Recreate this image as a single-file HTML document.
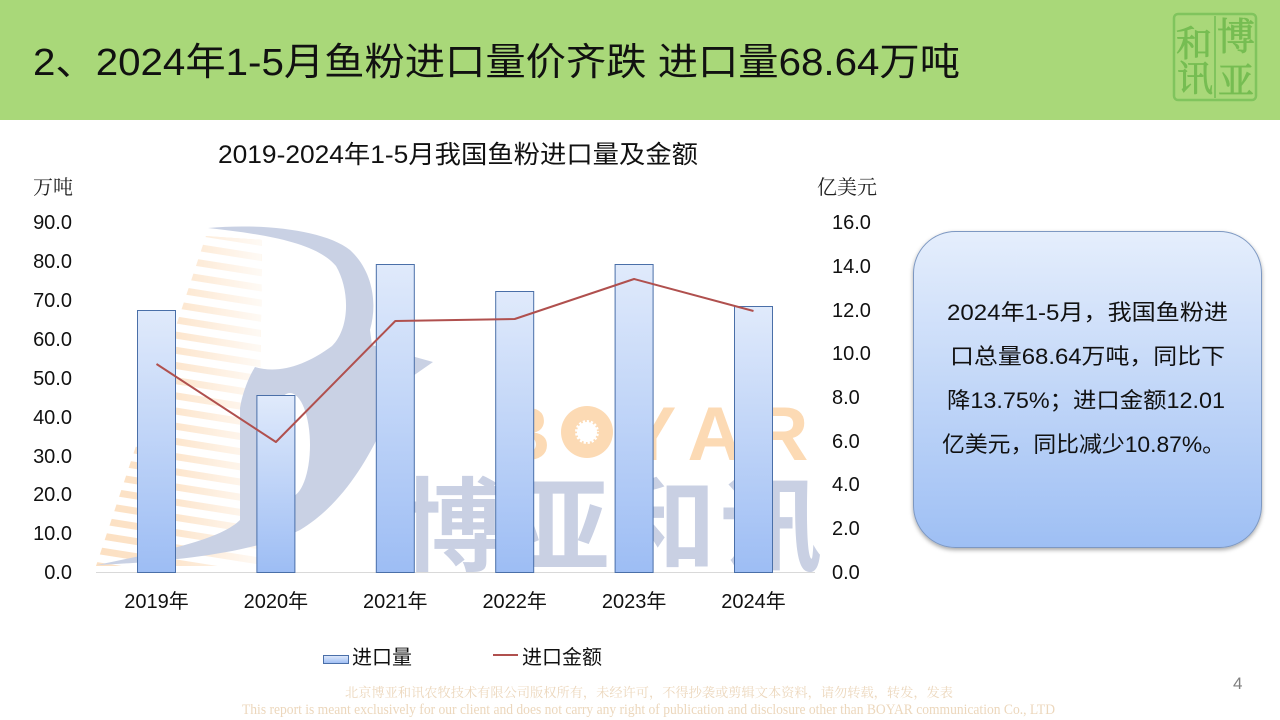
<!DOCTYPE html>
<html>
<head>
<meta charset="utf-8">
<style>
  html,body{margin:0;padding:0;background:#fff;}
  body{width:1280px;height:720px;overflow:hidden;position:relative;}
  svg{position:absolute;left:0;top:0;}
  .s{font-family:"Liberation Sans","Noto Sans CJK SC",sans-serif;}
  .sf{font-family:"Liberation Serif","Noto Serif CJK SC",serif;}
</style>
</head>
<body>
<svg width="1280" height="720" viewBox="0 0 1280 720" xmlns="http://www.w3.org/2000/svg">
  <defs>
    <linearGradient id="barg" x1="0" y1="0" x2="0" y2="1">
      <stop offset="0" stop-color="#e0eafb"/>
      <stop offset="1" stop-color="#9dbdf4"/>
    </linearGradient>
    <linearGradient id="boxg" x1="0" y1="0" x2="0" y2="1">
      <stop offset="0" stop-color="#e5eefc"/>
      <stop offset="1" stop-color="#9ebff4"/>
    </linearGradient>
    <linearGradient id="fade" x1="0" y1="0" x2="1" y2="0">
      <stop offset="0" stop-color="#fff" stop-opacity="0"/>
      <stop offset="0.5" stop-color="#fff" stop-opacity="0.25"/>
      <stop offset="1" stop-color="#fff" stop-opacity="0.9"/>
    </linearGradient>
    <pattern id="stripes" width="60" height="15" patternUnits="userSpaceOnUse" patternTransform="rotate(9)">
      <rect x="0" y="0" width="60" height="7" fill="#fcdfc0"/>
    </pattern>
    <clipPath id="stripeclip">
      <polygon points="206,236 262,240 258,566 96,566"/>
    </clipPath>
    <filter id="sh" x="-10%" y="-10%" width="120%" height="125%">
      <feDropShadow dx="0" dy="2" stdDeviation="2" flood-color="#000" flood-opacity="0.35"/>
    </filter>
  </defs>

  <!-- header -->
  <rect x="0" y="0" width="1280" height="120" fill="#a9d879"/>
  <text class="s" x="33" y="75" font-size="38" fill="#111" textLength="927" lengthAdjust="spacingAndGlyphs">2、2024年1-5月鱼粉进口量价齐跌 进口量68.64万吨</text>

  <!-- seal logo -->
  <g>
    <rect x="1174" y="14" width="82" height="86" rx="4" fill="none" stroke="#80c45d" stroke-width="2.5"/>
    <line x1="1215" y1="16" x2="1215" y2="98" stroke="#80c45d" stroke-width="2"/>
    <text class="sf" x="1194" y="56" font-size="36" fill="#76bd52" text-anchor="middle" stroke="#76bd52" stroke-width="0.8">和</text>
    <text class="sf" x="1236" y="50" font-size="38" fill="#76bd52" text-anchor="middle" stroke="#76bd52" stroke-width="0.8">博</text>
    <text class="sf" x="1195" y="91" font-size="36" fill="#76bd52" text-anchor="middle" stroke="#76bd52" stroke-width="0.8">讯</text>
    <text class="sf" x="1236" y="93" font-size="36" fill="#76bd52" text-anchor="middle" stroke="#76bd52" stroke-width="0.8">亚</text>
  </g>

  <!-- watermark stripes -->
  <g clip-path="url(#stripeclip)">
    <rect x="90" y="225" width="180" height="350" fill="url(#stripes)"/>
    <rect x="90" y="225" width="180" height="350" fill="url(#fade)"/>
  </g>
  <!-- watermark B shape -->
  <path d="M 208 228 C 262 223, 325 230, 350 250 C 372 270, 378 302, 370 330 L 372 345 L 433 362 L 400 385 C 380 440, 350 500, 300 530 C 250 555, 160 562, 97 565 C 160 552, 220 540, 240 520 L 240 408 C 243 390, 250 375, 255 367 C 278 374, 305 366, 332 346 C 350 328, 350 290, 336 266 C 316 242, 262 234, 208 228 Z" fill="#c9d1e4"/>
  <ellipse cx="290" cy="445" rx="20" ry="52" fill="#fff"/>

  <!-- BOYAR -->
  <g class="s" font-size="76" fill="#fcdab4" text-anchor="middle" font-weight="bold">
    <text x="523" y="460">B</text>
    <text x="651" y="460">Y</text>
    <text x="715" y="460">A</text>
    <text x="781" y="460">R</text>
  </g>
  <circle cx="587" cy="432" r="26" fill="#fcdab4"/>
  <circle cx="587" cy="432" r="12" fill="#fff"/>
  <circle cx="587" cy="432" r="12" fill="none" stroke="#fcdab4" stroke-width="4" stroke-dasharray="2 2.5"/>

  <!-- 博亚和讯 -->
  <g class="s" font-size="102" fill="#c9d0e3" text-anchor="middle" font-weight="bold">
    <text x="453" y="563">博</text>
    <text x="559" y="563">亚</text>
    <text x="665" y="563">和</text>
    <text x="771" y="563">讯</text>
  </g>

  <!-- chart title -->
  <text class="s" x="218" y="163" font-size="25" fill="#111" textLength="480" lengthAdjust="spacingAndGlyphs">2019-2024年1-5月我国鱼粉进口量及金额</text>

  <!-- axis units -->
  <text class="sf" x="33" y="194" font-size="20" fill="#222">万吨</text>
  <text class="sf" x="817" y="194" font-size="20" fill="#222">亿美元</text>

  <!-- left axis labels -->
  <g class="s" font-size="20" fill="#111" text-anchor="end">
    <text x="72" y="229">90.0</text>
    <text x="72" y="268">80.0</text>
    <text x="72" y="307">70.0</text>
    <text x="72" y="346">60.0</text>
    <text x="72" y="385">50.0</text>
    <text x="72" y="424">40.0</text>
    <text x="72" y="463">30.0</text>
    <text x="72" y="501">20.0</text>
    <text x="72" y="540">10.0</text>
    <text x="72" y="579">0.0</text>
  </g>
  <!-- right axis labels -->
  <g class="s" font-size="20" fill="#111">
    <text x="832" y="229">16.0</text>
    <text x="832" y="273">14.0</text>
    <text x="832" y="317">12.0</text>
    <text x="832" y="360">10.0</text>
    <text x="832" y="404">8.0</text>
    <text x="832" y="448">6.0</text>
    <text x="832" y="491">4.0</text>
    <text x="832" y="535">2.0</text>
    <text x="832" y="579">0.0</text>
  </g>

  <!-- axis line -->
  <line x1="96" y1="572.5" x2="815" y2="572.5" stroke="#d9d9d9" stroke-width="1"/>

  <!-- bars -->
  <g fill="url(#barg)" stroke="#4a6fa8" stroke-width="1">
    <rect x="137.5" y="310.5" width="38" height="262"/>
    <rect x="256.9" y="395.5" width="38" height="177"/>
    <rect x="376.3" y="264.5" width="38" height="308"/>
    <rect x="495.7" y="291.5" width="38" height="281"/>
    <rect x="615.1" y="264.5" width="38" height="308"/>
    <rect x="734.5" y="306.5" width="38" height="266"/>
  </g>

  <!-- line series -->
  <polyline points="156.5,364 275.9,442 395.3,321 514.7,319 634.1,279 753.5,311" fill="none" stroke="#b0504e" stroke-width="2" stroke-linejoin="round"/>

  <!-- x labels -->
  <g class="s" font-size="20" fill="#111" text-anchor="middle">
    <text x="156.5" y="608">2019年</text>
    <text x="275.9" y="608">2020年</text>
    <text x="395.3" y="608">2021年</text>
    <text x="514.7" y="608">2022年</text>
    <text x="634.1" y="608">2023年</text>
    <text x="753.5" y="608">2024年</text>
  </g>

  <!-- legend -->
  <rect x="323.5" y="655.5" width="25" height="8" fill="url(#barg)" stroke="#4a6fa8" stroke-width="1"/>
  <text class="s" x="352" y="664" font-size="20" fill="#111">进口量</text>
  <line x1="493" y1="655" x2="518" y2="655" stroke="#b0504e" stroke-width="2"/>
  <text class="s" x="522" y="664" font-size="20" fill="#111">进口金额</text>

  <!-- text box -->
  <rect x="913.5" y="231.5" width="348" height="316" rx="42" ry="42" fill="url(#boxg)" stroke="#7d98c2" stroke-width="1" filter="url(#sh)"/>
  <g class="s" font-size="22" fill="#111">
    <text x="947" y="320" textLength="281" lengthAdjust="spacingAndGlyphs">2024年1-5月，我国鱼粉进</text>
    <text x="950" y="364" textLength="275" lengthAdjust="spacingAndGlyphs">口总量68.64万吨，同比下</text>
    <text x="947" y="408" textLength="278" lengthAdjust="spacingAndGlyphs">降13.75%；进口金额12.01</text>
    <text x="942" y="452" textLength="283" lengthAdjust="spacingAndGlyphs">亿美元，同比减少10.87%。</text>
  </g>

  <!-- page number -->
  <text class="s" x="1233" y="689" font-size="17" fill="#7f7f7f">4</text>

  <!-- footer -->
  <text class="sf" x="345" y="697" font-size="13" fill="#ecd7bc" textLength="608" lengthAdjust="spacingAndGlyphs">北京博亚和讯农牧技术有限公司版权所有，未经许可，不得抄袭或剪辑文本资料，请勿转载，转发，发表</text>
  <text class="sf" x="242" y="714" font-size="15" fill="#ecd7bc" textLength="813" lengthAdjust="spacingAndGlyphs">This report is meant exclusively for our client and does not carry any right of publication and disclosure other than BOYAR communication Co., LTD</text>
</svg>
</body>
</html>
